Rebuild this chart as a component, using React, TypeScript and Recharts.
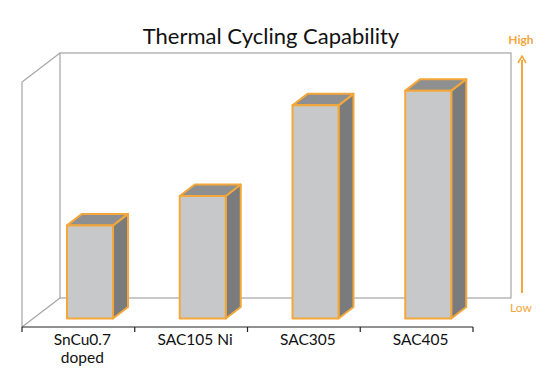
import { BarChart, Bar, XAxis, YAxis, Customized } from "recharts";

const categories = ["SnCu0.7\ndoped", "SAC105 Ni", "SAC305", "SAC405"];
const capability = [38, 50, 87, 93];
const scaleLabels = { low: "Low", high: "High" };
const title = "Thermal Cycling Capability";

const data = categories.map((name, i) => ({ name, value: capability[i] }));

const W = 549;
const H = 391;
const M = { top: 82, right: 76, left: 22, bottom: 24 };
const AXIS_H = 40;
const PLOT_BOTTOM = H - M.bottom - AXIS_H;
const PLOT_RIGHT = W - M.right;
const BAND = (PLOT_RIGHT - M.left) / categories.length;

// perspective offsets
const WALL_DX = 38;
const WALL_DY = 29;
const BAR_DX = 12;
const BAR_DY = 8.5;
const DEPTH_X = 15;
const DEPTH_Y = 11.5;

const ORANGE = "#f3a73a";
const FONT = "Lato, 'Open Sans', sans-serif";

function Walls() {
  const l = M.left;
  const t = M.top;
  const b = PLOT_BOTTOM;
  const r = PLOT_RIGHT;
  const bl = l + WALL_DX;
  const bt = t - WALL_DY;
  const bb = b - WALL_DY;
  const br = r + WALL_DX;
  return (
    <g fill="none" stroke="#a5a5a5" strokeWidth={1.2}>
      <rect x={bl} y={bt} width={br - bl} height={bb - bt} />
      <polyline points={`${l},${b} ${l},${t} ${bl},${bt}`} />
      <line x1={l} y1={b} x2={bl} y2={bb} />
    </g>
  );
}

function Decor() {
  const ax = 522;
  return (
    <g>
      <text
        x={271}
        y={44}
        textAnchor="middle"
        fontFamily={FONT}
        fontSize={22}
        fill="#111"
      >
        {title}
      </text>
      <line x1={ax} y1={60} x2={ax} y2={293} stroke={ORANGE} strokeWidth={2} />
      <polyline
        points={`${ax - 4},${63} ${ax},${56} ${ax + 4},${63}`}
        fill="none"
        stroke={ORANGE}
        strokeWidth={1.6}
      />
      <text x={521} y={44} textAnchor="middle" fontFamily={FONT} fontSize={12} fontWeight={700} fill={ORANGE}>
        {scaleLabels.high}
      </text>
      <text x={521} y={312} textAnchor="middle" fontFamily={FONT} fontSize={12} fill={ORANGE}>
        {scaleLabels.low}
      </text>
    </g>
  );
}

function Bar3D(props: any) {
  const { x, y, width, height } = props;
  if (height == null || height <= 0) return null;
  const fx = x + BAR_DX;
  const fy = y - BAR_DY;
  const w = width;
  const h = height;
  const top = `${fx},${fy} ${fx + DEPTH_X},${fy - DEPTH_Y} ${fx + w + DEPTH_X},${fy - DEPTH_Y} ${fx + w},${fy}`;
  const side = `${fx + w},${fy} ${fx + w + DEPTH_X},${fy - DEPTH_Y} ${fx + w + DEPTH_X},${fy + h - DEPTH_Y} ${fx + w},${fy + h}`;
  return (
    <g stroke={ORANGE} strokeWidth={2} strokeLinejoin="round">
      <polygon points={side} fill="#7a7b7d" />
      <polygon points={top} fill="#8e8f91" />
      <rect x={fx} y={fy} width={w} height={h} fill="#c7c8c9" />
    </g>
  );
}

function CategoryTick(props: any) {
  const { x, payload, index } = props;
  const lines = String(payload.value).split("\n");
  const left = x - BAND / 2;
  const right = x + BAND / 2;
  return (
    <g>
      <line x1={left} y1={PLOT_BOTTOM} x2={left} y2={PLOT_BOTTOM + 5} stroke="#222" strokeWidth={1.2} />
      {index === categories.length - 1 && (
        <line x1={right} y1={PLOT_BOTTOM} x2={right} y2={PLOT_BOTTOM + 5} stroke="#222" strokeWidth={1.2} />
      )}
      {lines.map((ln, i) => (
        <text
          key={i}
          x={x + 4}
          y={PLOT_BOTTOM + 18 + i * 17.5}
          textAnchor="middle"
          fontFamily={FONT}
          fontSize={15.5}
          fill="#111"
        >
          {ln}
        </text>
      ))}
    </g>
  );
}

export default function App() {
  return (
    <div style={{ position: "absolute", left: 0, top: 0, width: W, height: H, background: "#fff" }}>
      <BarChart width={W} height={H} data={data} margin={M}>
        <Customized component={Walls} />
        <XAxis
          dataKey="name"
          height={AXIS_H}
          interval={0}
          axisLine={{ stroke: "#222", strokeWidth: 1.2 }}
          tickLine={false}
          tick={<CategoryTick />}
        />
        <YAxis hide domain={[0, 100]} />
        <Bar dataKey="value" barSize={46} shape={<Bar3D />} isAnimationActive={false} />
        <Customized component={Decor} />
      </BarChart>
    </div>
  );
}
